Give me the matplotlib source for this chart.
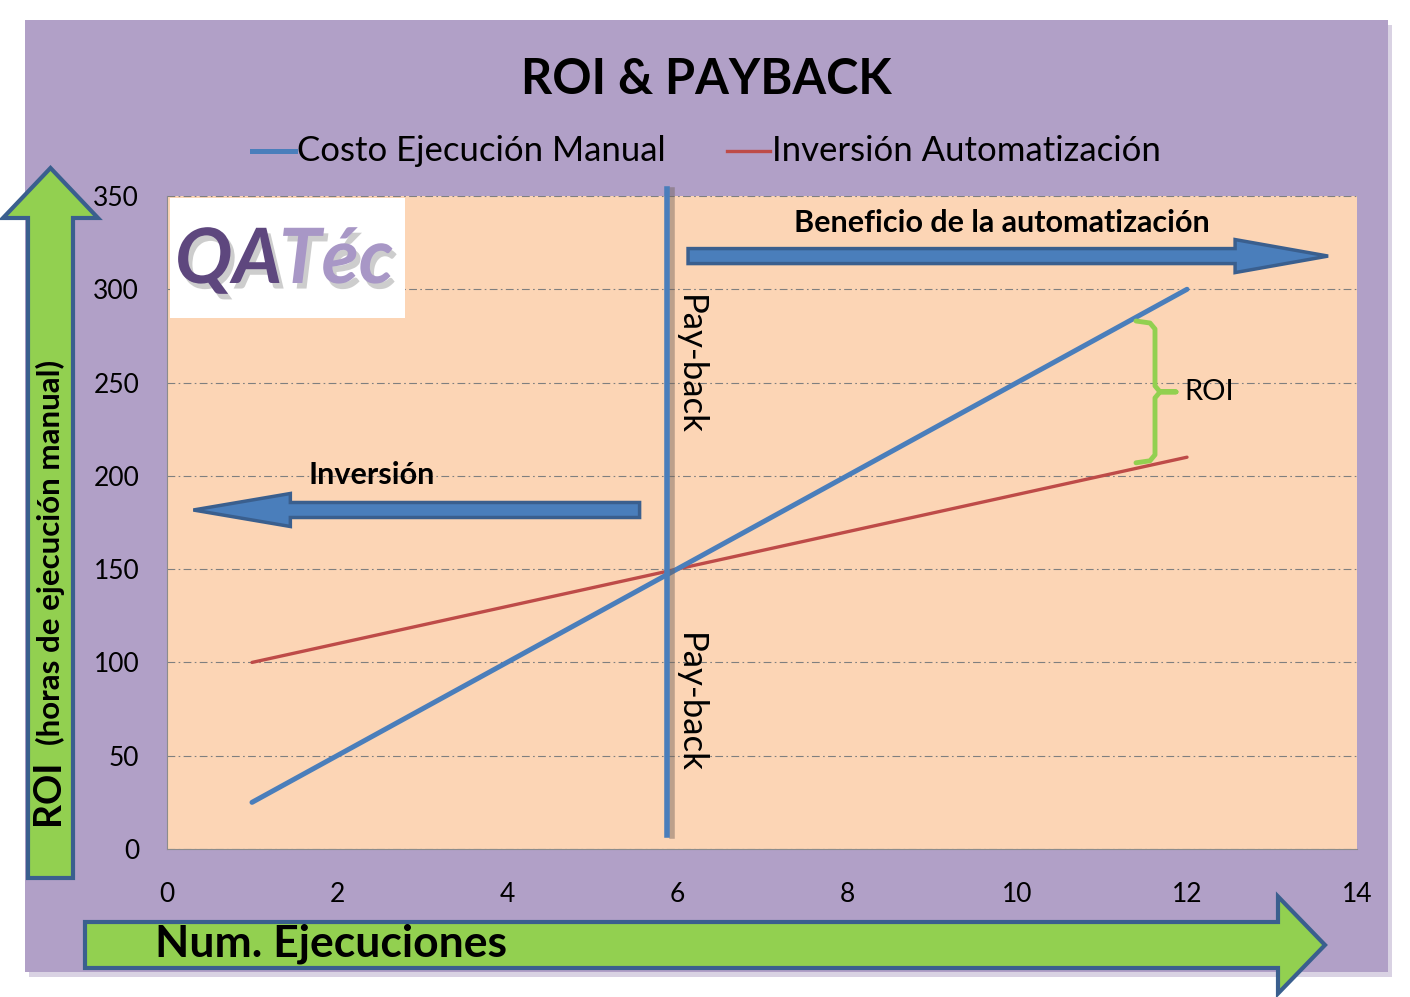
import matplotlib.pyplot as plt
from matplotlib.patches import Polygon, Rectangle
from matplotlib.lines import Line2D
import matplotlib.patheffects as pe

W, H = 1410, 997

# datos del grafico
ejecuciones = [1, 2, 3, 4, 5, 6, 7, 8, 9, 10, 11, 12]
costo_manual = [25, 50, 75, 100, 125, 150, 175, 200, 225, 250, 275, 300]
inversion_auto = [100, 110, 120, 130, 140, 150, 160, 170, 180, 190, 200, 210]
payback_x = 5.88
x_ticks = [0, 2, 4, 6, 8, 10, 12, 14]
y_ticks = [0, 50, 100, 150, 200, 250, 300, 350]

BLUE = '#4A7EBB'
RED = '#BE4B48'
GREEN = '#92D050'
EDGE = '#3A5F8E'
PURPLE = '#B1A0C7'
PEACH = '#FCD5B5'

plt.rcParams['font.family'] = ['Lato', 'DejaVu Sans']

fig = plt.figure(figsize=(W / 100, H / 100), dpi=100)
fig.patch.set_facecolor('white')


def fx(x):
    return x / W


def fy(y):
    return 1 - y / H


def arrow_pts(x0, y0, x1, y1, shaft, head, head_len):
    # arrow polygon in pixels (top origin), only horizontal / vertical
    if y0 == y1:
        d = 1 if x1 > x0 else -1
        xb = x1 - d * head_len
        return [(x0, y0 - shaft / 2), (xb, y0 - shaft / 2), (xb, y0 - head / 2),
                (x1, y1), (xb, y0 + head / 2), (xb, y0 + shaft / 2), (x0, y0 + shaft / 2)]
    d = 1 if y1 > y0 else -1
    yb = y1 - d * head_len
    return [(x0 - shaft / 2, y0), (x0 - shaft / 2, yb), (x0 - head / 2, yb),
            (x1, y1), (x0 + head / 2, yb), (x0 + shaft / 2, yb), (x0 + shaft / 2, y0)]


def draw_arrow(pts, fc, ec, lw, z=5):
    poly = Polygon([(fx(x), fy(y)) for x, y in pts], closed=True, transform=fig.transFigure,
                   fc=fc, ec=ec, lw=lw, zorder=z, joinstyle='miter')
    fig.add_artist(poly)


# fondo morado con sombra
fig.add_artist(Rectangle((fx(29), fy(977)), 1363 / W, 952 / H, transform=fig.transFigure,
                         fc='#d9d2e3', ec='none', zorder=0))
fig.add_artist(Rectangle((fx(25), fy(972)), 1363 / W, 952 / H, transform=fig.transFigure,
                         fc=PURPLE, ec='none', zorder=0))

ax = fig.add_axes([fx(167), fy(849), (1357 - 167) / W, (849 - 196) / H])
ax.set_facecolor(PEACH)
ax.set_xlim(0, 14)
ax.set_ylim(0, 350)
ax.set_xticks(x_ticks)
ax.set_yticks(y_ticks)
ax.tick_params(length=0, labelsize=19)
ax.tick_params(axis='y', pad=20)
ax.tick_params(axis='x', pad=24)
for s in ['top', 'right']:
    ax.spines[s].set_visible(False)
for s in ['left', 'bottom']:
    ax.spines[s].set_color('#8c8c8c')
ax.yaxis.grid(True, color='#7f7f7f', lw=0.8, dashes=(7, 3, 1.5, 3))
ax.set_axisbelow(True)

ax.plot(ejecuciones, inversion_auto, color=RED, lw=2.4, solid_capstyle='round', zorder=3)
ax.plot(ejecuciones, costo_manual, color=BLUE, lw=3.6, solid_capstyle='round', zorder=4)

# linea de pay-back
ax.plot([payback_x, payback_x], [7.5, 354], color=BLUE, lw=4, clip_on=False, zorder=5,
        path_effects=[pe.SimpleLineShadow(offset=(4, -1), shadow_color='#6f6058', alpha=0.45),
                      pe.Normal()])
ax.text(payback_x + 0.27, 297, 'Pay-back', rotation=270, ha='center', va='top', fontsize=25)
ax.text(payback_x + 0.27, 116, 'Pay-back', rotation=270, ha='center', va='top', fontsize=25)

ax.text(9.82, 335.5, 'Beneficio de la automatización', ha='center', va='center',
        fontsize=22, fontweight='bold')
ax.text(2.41, 200.5, 'Inversión', ha='center', va='center', fontsize=22, fontweight='bold')
ax.text(11.97, 245, 'ROI', ha='left', va='center', fontsize=21)


def data_px(x, y):
    dx, dy = ax.transData.transform((x, y))
    return dx, H - dy


# flechas azules dentro del grafico
x0, y0 = data_px(6.13, 317.8)
x1, _ = data_px(13.66, 317.8)
draw_arrow(arrow_pts(x0, y0, x1, y0, 15, 33, 93), BLUE, EDGE, 2.5)
x0, y0 = data_px(5.56, 181.7)
x1, _ = data_px(0.31, 181.7)
draw_arrow(arrow_pts(x0, y0, x1, y0, 15, 33, 97), BLUE, EDGE, 2.5)

# llave verde del ROI
bx0, by0 = data_px(11.4, 283)
bx1, by1 = data_px(11.4, 207)
bm = (by0 + by1) / 2
brace = [(bx0, by0), (bx0 + 14, by0 + 2), (bx0 + 19, by0 + 8), (bx0 + 19, bm - 6),
         (bx0 + 24, bm), (bx0 + 40, bm), (bx0 + 24, bm), (bx0 + 19, bm + 6),
         (bx0 + 19, by1 - 8), (bx0 + 14, by1 - 2), (bx0, by1)]
fig.add_artist(Line2D([fx(p[0]) for p in brace], [fy(p[1]) for p in brace],
                      transform=fig.transFigure, color=GREEN, lw=3.5, zorder=6,
                      solid_joinstyle='round', solid_capstyle='round'))

# logo
fig.add_artist(Rectangle((fx(170), fy(318)), 235 / W, 120 / H, transform=fig.transFigure,
                         fc='white', ec='none', zorder=6))
shadow = [pe.SimplePatchShadow(offset=(3, -4), shadow_rgbFace='#a5a5a5', alpha=0.55), pe.Normal()]
fig.text(fx(175), fy(283), 'QA', fontsize=55, fontweight='bold', style='italic',
         color='#5E477E', zorder=7, path_effects=shadow)
fig.text(fx(279), fy(283), 'Téc', fontsize=55, fontweight='bold', style='italic',
         color='#A897C6', zorder=7, path_effects=shadow)

# titulo y leyenda
fig.text(fx(706), fy(80), 'ROI & PAYBACK', ha='center', va='center', fontsize=35,
         fontweight='bold')
fig.add_artist(Line2D([fx(252), fx(295)], [fy(151), fy(151)], transform=fig.transFigure,
                      color=BLUE, lw=3.6))
fig.text(fx(297), fy(151), 'Costo Ejecución Manual', ha='left', va='center', fontsize=25)
fig.add_artist(Line2D([fx(727), fx(770)], [fy(151), fy(151)], transform=fig.transFigure,
                      color=RED, lw=2.4))
fig.text(fx(772), fy(151), 'Inversión Automatización', ha='left', va='center', fontsize=25)

# flechas verdes de los ejes
draw_arrow(arrow_pts(50.5, 878, 50.5, 168, 45, 95, 50), GREEN, EDGE, 3)
draw_arrow(arrow_pts(85, 945, 1325, 945, 46, 97, 47), GREEN, EDGE, 3)

fig.text(fx(48), fy(825), 'ROI', rotation=90, ha='center', va='bottom', fontsize=27,
         fontweight='bold', zorder=8)
fig.text(fx(50), fy(745), '(horas de ejecución manual)', rotation=90, ha='center',
         va='bottom', fontsize=22.5, fontweight='bold', zorder=8)
fig.text(fx(155), fy(944), 'Num. Ejecuciones', ha='left', va='center', fontsize=32,
         fontweight='bold', zorder=8)

fig.savefig('out.png', dpi=100)
